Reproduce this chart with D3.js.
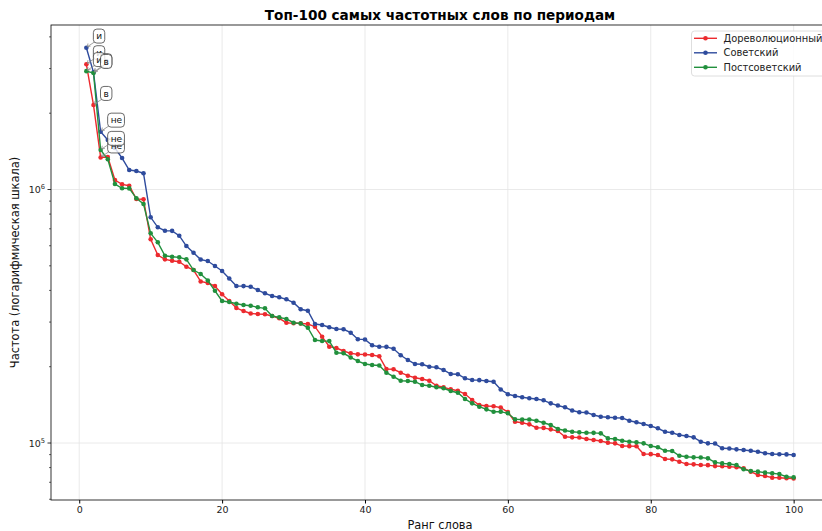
<!DOCTYPE html>
<html>
<head>
<meta charset="utf-8">
<script src="https://cdn.jsdelivr.net/npm/d3@7"></script>
<style>
  body { margin: 0; background: #fff; }
  svg { display: block; font-family: "DejaVu Sans", sans-serif; }
</style>
</head>
<body>
<div id="graph"></div>
<script>
const ranks = d3.range(1, 101);

const seriesNames = ["Дореволюционный", "Советский", "Постсоветский"];
const seriesColors = ["#ec2a2e", "#2e4b9d", "#21903d"];
const topWords = ["и", "в", "не"];

const prerev = [
  3118000, 2154000, 1337000, 1344000, 1090000, 1048000, 1035000, 917400, 914800, 636100,
  551500, 530300, 523600, 518900, 495800, 481200, 433700, 427800, 416300, 386400,
  363300, 340800, 331700, 324200, 322800, 321900, 317000, 310400, 298300, 296600,
  296400, 294800, 287600, 262700, 239900, 237000, 230700, 225900, 223800, 223600,
  222400, 219800, 195900, 195400, 189400, 184300, 181000, 178800, 176100, 168300,
  165900, 162900, 160800, 156100, 147800, 141200, 139900, 139700, 138000, 132500,
  121300, 120200, 118500, 114900, 114700, 113200, 111500, 105900, 105300, 105200,
  103700, 102800, 101800, 100300, 99700, 97300, 97200, 97100, 90500, 90400,
  89700, 86500, 86200, 84400, 82600, 82400, 81900, 81800, 81100, 81000,
  80700, 80200, 79500, 77100, 74800, 74100, 73000, 72900, 72600, 72500
];

const soviet = [
  3626000, 2900000, 1690000, 1568000, 1458000, 1331000, 1194000, 1183000, 1159000, 776900,
  709500, 688000, 687000, 657400, 598500, 563200, 529400, 522200, 499000, 476900,
  445600, 416300, 416000, 413700, 401400, 389600, 380100, 375700, 368900, 357700,
  336900, 332600, 294800, 292100, 286100, 281700, 281000, 272400, 256800, 256000,
  242900, 239900, 239500, 235300, 221800, 212600, 205000, 204500, 200000, 198900,
  194100, 187200, 186800, 180000, 177200, 177000, 175600, 174500, 162600, 155800,
  153300, 151500, 150100, 149100, 147400, 143400, 140600, 138300, 134400, 132200,
  132000, 129000, 127000, 126300, 125800, 125600, 122400, 120700, 118900, 116700,
  114300, 110800, 109800, 107500, 106600, 105300, 101200, 99700, 99500, 95300,
  95200, 94400, 93800, 93200, 92400, 91100, 90500, 90300, 90200, 89700
];

const postsoviet = [
  2930000, 2880000, 1432000, 1316000, 1051000, 1011000, 1010000, 923200, 876600, 671800,
  619000, 548000, 543000, 540100, 530300, 481200, 464200, 437600, 398500, 363300,
  360000, 354500, 350300, 348100, 343000, 339900, 317000, 313200, 308400, 298300,
  296000, 285000, 254900, 252600, 252400, 227100, 225900, 217500, 210600, 205000,
  203100, 202200, 189400, 182600, 176100, 175600, 174500, 169300, 168300, 165900,
  164400, 160400, 157900, 149100, 143400, 139100, 135800, 132900, 133000, 131000,
  124000, 123900, 123800, 122400, 120200, 117800, 113600, 112000, 110800, 110200,
  109800, 109700, 109200, 104300, 103700, 102100, 101200, 100600, 99700, 97300,
  96200, 93200, 93000, 89100, 88300, 87800, 87700, 87000, 83900, 83100,
  82600, 81900, 78800, 77500, 77100, 76400, 76000, 75400, 73600, 73200
];

const xTicks = [0, 20, 40, 60, 80, 100];
const yMajor = [1e5, 1e6];

const series = [prerev, soviet, postsoviet].map((vals, i) => ({
  name: seriesNames[i],
  color: seriesColors[i],
  points: vals.map((v, j) => ({ rank: ranks[j], value: v }))
}));

const width = 822;
const height = 531;
const margin = { top: 25, right: -7, bottom: 31, left: 51 };

const svg = d3.select("#graph")
              .append("svg")
              .attr("width", width)
              .attr("height", height);

const xScale = d3.scaleLinear()
                 .domain([-3.95, 104.95])
                 .range([margin.left, width - margin.right]);

const yScale = d3.scaleLog()
                 .domain([59600, 4456000])
                 .range([height - margin.bottom, margin.top]);

const pLeft = margin.left, pRight = width - margin.right;
const pTop = margin.top, pBottom = height - margin.bottom;

// grid
svg.append("g")
   .selectAll("line")
   .data(xTicks)
   .enter()
   .append("line")
   .attr("x1", d => xScale(d)).attr("x2", d => xScale(d))
   .attr("y1", pTop).attr("y2", pBottom)
   .attr("stroke", "#e4e4e4").attr("stroke-width", 0.8);

svg.append("g")
   .selectAll("line")
   .data(yMajor)
   .enter()
   .append("line")
   .attr("x1", pLeft).attr("x2", pRight)
   .attr("y1", d => yScale(d)).attr("y2", d => yScale(d))
   .attr("stroke", "#e4e4e4").attr("stroke-width", 0.8);

// lines + markers
const line = d3.line()
               .x(d => xScale(d.rank))
               .y(d => yScale(d.value));

series.forEach(s => {
  const g = svg.append("g");
  g.append("path")
   .datum(s.points)
   .attr("d", line)
   .attr("fill", "none")
   .attr("stroke", s.color)
   .attr("stroke-width", 1.4);
  g.selectAll("circle")
   .data(s.points)
   .enter()
   .append("circle")
   .attr("cx", d => xScale(d.rank))
   .attr("cy", d => yScale(d.value))
   .attr("r", 2.3)
   .attr("fill", s.color);
});

// axes
const xAxis = d3.axisBottom(xScale)
                .tickValues(xTicks)
                .tickSize(3.5)
                .tickPadding(3);

svg.append("g")
   .attr("transform", "translate(0," + pBottom + ")")
   .attr("id", "x-axis")
   .call(xAxis)
   .call(g => g.select(".domain").remove())
   .selectAll("text")
   .style("font-family", "DejaVu Sans")
   .style("font-size", "9.5px")
   .attr("fill", "#222");

const yMinor = [];
[1e4, 1e5, 1e6].forEach(b => d3.range(2, 10).forEach(k => {
  const v = b * k;
  if (v > 59600 && v < 4456000) yMinor.push(v);
}));

const yAxisG = svg.append("g")
                  .attr("transform", "translate(" + pLeft + ",0)")
                  .attr("id", "y-axis");

yAxisG.selectAll("line.minor")
      .data(yMinor)
      .enter()
      .append("line")
      .attr("class", "minor")
      .attr("x1", -2).attr("x2", 0)
      .attr("y1", d => yScale(d)).attr("y2", d => yScale(d))
      .attr("stroke", "#000").attr("stroke-width", 0.6);

yAxisG.selectAll("line.major")
      .data(yMajor)
      .enter()
      .append("line")
      .attr("class", "major")
      .attr("x1", -3.5).attr("x2", 0)
      .attr("y1", d => yScale(d)).attr("y2", d => yScale(d))
      .attr("stroke", "#000").attr("stroke-width", 0.8);

const yLabels = yAxisG.selectAll("text.major")
                      .data(yMajor)
                      .enter()
                      .append("text")
                      .attr("class", "major")
                      .attr("x", -6)
                      .attr("y", d => yScale(d) + 3.5)
                      .attr("text-anchor", "end")
                      .style("font-size", "9.5px")
                      .attr("fill", "#222");
yLabels.append("tspan").text("10");
yLabels.append("tspan")
       .attr("dy", -4)
       .style("font-size", "6.7px")
       .text(d => Math.round(Math.log10(d)));

// frame
svg.append("rect")
   .attr("x", pLeft).attr("y", pTop)
   .attr("width", pRight - pLeft).attr("height", pBottom - pTop)
   .attr("fill", "none")
   .attr("stroke", "#000")
   .attr("stroke-width", 0.8);

// annotations for top-3 words
const ann = svg.append("g");
series.forEach(s => {
  topWords.forEach((w, i) => {
    const p = s.points[i];
    const px = xScale(p.rank), py = yScale(p.value);
    const tx = px + 10, ty = py - 11.6;
    const tw = w.length * 5.4;
    const bx = tx - 3, by = ty - 7, bw = tw + 6, bh = 14;
    ann.append("line")
       .attr("x1", bx + 1).attr("y1", by + bh - 1)
       .attr("x2", px + 1).attr("y2", py - 1)
       .attr("stroke", "#888").attr("stroke-width", 0.8);
    ann.append("path")
       .attr("d", "M" + (px + 1) + "," + (py - 1) + " l3.2,-0.6 M" + (px + 1) + "," + (py - 1) + " l0.6,-3.2")
       .attr("stroke", "#888").attr("stroke-width", 0.8).attr("fill", "none");
    ann.append("rect")
       .attr("x", bx).attr("y", by)
       .attr("width", bw).attr("height", bh)
       .attr("rx", 3.5)
       .attr("fill", "#fff").attr("fill-opacity", 0.8)
       .attr("stroke", "#444").attr("stroke-width", 0.8);
    ann.append("text")
       .attr("x", tx).attr("y", ty + 3.2)
       .style("font-size", "9px")
       .attr("fill", "#111")
       .text(w);
  });
});

// legend
const lg = svg.append("g");
lg.append("rect")
  .attr("x", 691.5).attr("y", 31)
  .attr("width", 140).attr("height", 45)
  .attr("rx", 3)
  .attr("fill", "#fff").attr("fill-opacity", 0.8)
  .attr("stroke", "#d6d6d6").attr("stroke-width", 0.8);
series.forEach((s, i) => {
  const y = 38.3 + i * 14.5;
  lg.append("line")
    .attr("x1", 694).attr("x2", 717)
    .attr("y1", y).attr("y2", y)
    .attr("stroke", s.color).attr("stroke-width", 1.4);
  lg.append("circle")
    .attr("cx", 705.5).attr("cy", y).attr("r", 2.3)
    .attr("fill", s.color);
  lg.append("text")
    .attr("x", 723.5).attr("y", y + 3.6)
    .style("font-size", "9.9px")
    .attr("fill", "#222")
    .text(s.name);
});

// titles
svg.append("text")
   .attr("x", (pLeft + pRight) / 2)
   .attr("y", 20)
   .attr("text-anchor", "middle")
   .style("font-size", "13.6px")
   .style("font-weight", "bold")
   .text("Топ-100 самых частотных слов по периодам");

svg.append("text")
   .attr("x", (pLeft + pRight) / 2)
   .attr("y", 529)
   .attr("text-anchor", "middle")
   .style("font-size", "11.4px")
   .attr("fill", "#111")
   .text("Ранг слова");

svg.append("text")
   .attr("transform", "translate(19," + ((pTop + pBottom) / 2) + ") rotate(-90)")
   .attr("text-anchor", "middle")
   .style("font-size", "11.4px")
   .attr("fill", "#111")
   .text("Частота (логарифмическая шкала)");
</script>
</body>
</html>
